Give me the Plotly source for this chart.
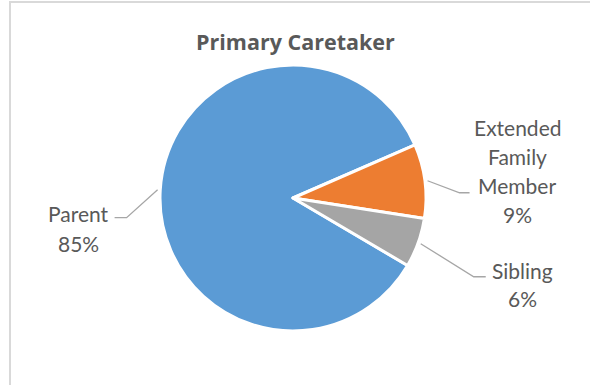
import math
import plotly.graph_objects as go

# ---- data ----
labels = ["Parent", "Extended Family Member", "Sibling"]
label_lines = [["Parent"], ["Extended", "Family", "Member"], ["Sibling"]]
values = [85, 9, 6]
colors = ["#5B9BD5", "#ED7D31", "#A5A5A5"]
title = "Primary Caretaker"

W, H = 590, 385
CX, CY, R = 293, 198, 133  # pie centre / radius in px
ROT = 120.5

def px(x):
    return x / W

def py(y):
    return 1 - y / H

fig = go.Figure()
fig.add_trace(go.Pie(
    labels=labels, values=values, sort=False, direction="clockwise",
    rotation=ROT, textinfo="none", hoverinfo="none",
    marker=dict(colors=colors, line=dict(color="white", width=3)),
    domain=dict(x=[px(CX - R), px(CX + R)], y=[py(CY + R), py(CY - R)]),
    showlegend=False,
))

# label layout (offsets in px relative to leader start; label positions)
elbow_off = [(-31, 28), (32, 12), (53, 33)]
end_dx = [-12, 10, 12]
label_x = [78.5, 517, 522]
label_top = [212.5, 126, 269]   # visual centre of first line
line_step = [30, 29, 28]

total = sum(values)
shapes = []
annotations = []
ang = ROT
for i, v in enumerate(values):
    span = 360 * v / total
    mid = math.radians(ang + span / 2)
    ang += span
    sx = CX + 1.02 * R * math.sin(mid)
    sy = CY - 1.02 * R * math.cos(mid)
    ex, ey = sx + elbow_off[i][0], sy + elbow_off[i][1]
    hx = ex + end_dx[i]
    shapes.append(dict(type="path", xref="paper", yref="paper",
                       path=f"M {px(sx)},{py(sy)} L {px(ex)},{py(ey)} L {px(hx)},{py(ey)}",
                       line=dict(color="#A6A6A6", width=1.3)))
    pct = f"{round(100 * v / total)}%"
    lines = label_lines[i] + [pct]
    for k, t in enumerate(lines):
        annotations.append(dict(x=px(label_x[i]), y=py(label_top[i] + k * line_step[i] + 1),
                                xref="paper", yref="paper", showarrow=False,
                                text=t, xanchor="center", yanchor="middle",
                                font=dict(family="Lato", size=21, color="#595959")))

annotations.append(dict(x=px(295.5), y=py(41), xref="paper", yref="paper",
                        showarrow=False, text=f"<b>{title}</b>",
                        xanchor="center", yanchor="middle",
                        font=dict(family="Open Sans", size=21.5, color="#595959")))

# chart area border
shapes.append(dict(type="rect", xref="paper", yref="paper",
                   x0=px(10), x1=1.05, y0=-0.05, y1=py(2),
                   line=dict(color="#D9D9D9", width=2)))

fig.update_layout(
    width=W, height=H, margin=dict(l=0, r=0, t=0, b=0),
    paper_bgcolor="white", plot_bgcolor="white",
    shapes=shapes, annotations=annotations,
)

fig.write_html("out.html")
